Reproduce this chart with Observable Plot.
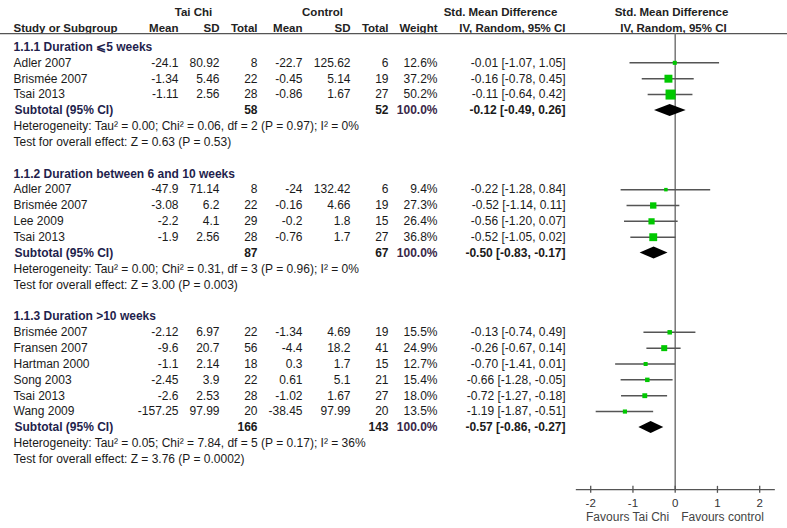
<!DOCTYPE html>
<html><head><meta charset="utf-8">
<script src="https://cdn.jsdelivr.net/npm/d3@7"></script>
<script src="https://cdn.jsdelivr.net/npm/@observablehq/plot@0.6"></script>
<style>body{margin:0;background:#fff;} #chart svg{display:block;}</style>
</head><body><div id="chart"></div>
<script>
// ---------- DATA ----------
const groupTitle = ["1.1.1 Duration \u2A7D5 weeks", "1.1.2 Duration between 6 and 10 weeks", "1.1.3 Duration >10 weeks"];
const studyGroup = [0,0,0, 1,1,1,1, 2,2,2,2,2,2];
const studyName = ["Adler 2007","Brismée 2007","Tsai 2013",
  "Adler 2007","Brismée 2007","Lee 2009","Tsai 2013",
  "Brismée 2007","Fransen 2007","Hartman 2000","Song 2003","Tsai 2013","Wang 2009"];
const taiChiMean = [-24.1,-1.34,-1.11, -47.9,-3.08,-2.2,-1.9, -2.12,-9.6,-1.1,-2.45,-2.6,-157.25];
const taiChiSD   = [80.92,5.46,2.56, 71.14,6.2,4.1,2.56, 6.97,20.7,2.14,3.9,2.53,97.99];
const taiChiN    = [8,22,28, 8,22,29,28, 22,56,18,22,28,20];
const controlMean = [-22.7,-0.45,-0.86, -24,-0.16,-0.2,-0.76, -1.34,-4.4,0.3,0.61,-1.02,-38.45];
const controlSD   = [125.62,5.14,1.67, 132.42,4.66,1.8,1.7, 4.69,18.2,1.7,5.1,1.67,97.99];
const controlN    = [6,19,27, 6,19,15,27, 19,41,15,21,27,20];
const weight = [12.6,37.2,50.2, 9.4,27.3,26.4,36.8, 15.5,24.9,12.7,15.4,18.0,13.5];
const smd    = [-0.01,-0.16,-0.11, -0.22,-0.52,-0.56,-0.52, -0.13,-0.26,-0.70,-0.66,-0.72,-1.19];
const ciLow  = [-1.07,-0.78,-0.64, -1.28,-1.14,-1.20,-1.05, -0.74,-0.67,-1.41,-1.28,-1.27,-1.87];
const ciHigh = [1.05,0.45,0.42, 0.84,0.11,0.07,0.02, 0.49,0.14,0.01,-0.05,-0.18,-0.51];

const subTaiChiN  = [58, 87, 166];
const subControlN = [52, 67, 143];
const subWeight   = [100.0, 100.0, 100.0];
const subSmd  = [-0.12, -0.50, -0.57];
const subLow  = [-0.49, -0.83, -0.86];
const subHigh = [0.26, -0.17, -0.27];
const heterogeneity = [
  "Heterogeneity: Tau² = 0.00; Chi² = 0.06, df = 2 (P = 0.97); I² = 0%",
  "Heterogeneity: Tau² = 0.00; Chi² = 0.31, df = 3 (P = 0.96); I² = 0%",
  "Heterogeneity: Tau² = 0.05; Chi² = 7.84, df = 5 (P = 0.17); I² = 36%"];
const overallTest = [
  "Test for overall effect: Z = 0.63 (P = 0.53)",
  "Test for overall effect: Z = 3.00 (P = 0.003)",
  "Test for overall effect: Z = 3.76 (P = 0.0002)"];
const axisTicks = [-2, -1, 0, 1, 2];
const favoursLeft = "Favours Tai Chi";
const favoursRight = "Favours control";

// ---------- ROW LAYOUT ----------
const titles = [], studies = [], subs = [], notes = [];
let row = 0;
groupTitle.forEach((t, g) => {
  titles.push({text: t, row}); row++;
  studyGroup.forEach((sg, i) => {
    if (sg !== g) return;
    studies.push({name: studyName[i], tm: taiChiMean[i], tsd: taiChiSD[i], tn: taiChiN[i],
      cm: controlMean[i], csd: controlSD[i], cn: controlN[i], w: weight[i],
      est: smd[i], lo: ciLow[i], hi: ciHigh[i], row});
    row++;
  });
  subs.push({g, tn: subTaiChiN[g], cn: subControlN[g], w: subWeight[g], est: subSmd[g], lo: subLow[g], hi: subHigh[g], row});
  notes.push({text: heterogeneity[g], row: row + 1});
  notes.push({text: overallTest[g], row: row + 2});
  row += 4;
});
const axisRow = 27.92;             // axis line row position
const headRow1 = -2.2, headRow2 = -1.2, headLine = -0.85;
const diamondHalf = 0.38;
const diamonds = subs.flatMap(s => [
  {g: s.g, x: s.lo, y1: s.row, y2: s.row},
  {g: s.g, x: s.est, y1: s.row - diamondHalf, y2: s.row + diamondHalf},
  {g: s.g, x: s.hi, y1: s.row, y2: s.row}]);

const ci = d => `${d.est.toFixed(2)} [${d.lo.toFixed(2)}, ${d.hi.toFixed(2)}]`;
const font = "Liberation Sans, Arial, sans-serif";
const txt = "#1a1a1a", navy = "#1f1f4d";
const body = {frameAnchor: "left", fontSize: 12, fontFamily: font, fill: txt};

// column layout (pixels from left)
const cols = [
  {key: d => String(d.tm), x: 178}, {key: d => String(d.tsd), x: 219}, {key: d => String(d.tn), x: 257},
  {key: d => String(d.cm), x: 302}, {key: d => String(d.csd), x: 350}, {key: d => String(d.cn), x: 388},
  {key: d => d.w.toFixed(1) + "%", x: 437}, {key: ci, x: 565}];
const subCols = [
  {key: d => String(d.tn), x: 257, fill: txt}, {key: d => String(d.cn), x: 388, fill: txt},
  {key: d => d.w.toFixed(1) + "%", x: 437, fill: "#3a2748"}, {key: ci, x: 565, fill: txt}];
const headers2 = [
  {t: "Mean", x: 178, a: "end"}, {t: "SD", x: 219, a: "end"}, {t: "Total", x: 257, a: "end"}, {t: "Mean", x: 302, a: "end"},
  {t: "SD", x: 350, a: "end"}, {t: "Total", x: 388, a: "end"}, {t: "Weight", x: 437, a: "end"},
  {t: "IV, Random, 95% CI", x: 565, a: "end"}, {t: "IV, Random, 95% CI", x: 673, a: "middle"},
  {t: "Study or Subgroup", x: 13, a: "start"}];
const headers1 = [
  {t: "Tai Chi", x: 193}, {t: "Control", x: 322}, {t: "Std. Mean Difference", x: 500}, {t: "Std. Mean Difference", x: 671}];
const head = {frameAnchor: "left", fontSize: 11.5, fontWeight: "bold", fontFamily: font, fill: "#222"};

const chart = Plot.plot({
  width: 787, height: 528,
  marginLeft: 0, marginRight: 0, marginTop: 0, marginBottom: 0,
  x: {domain: [-2, 2], range: [590.2, 759.2], axis: null},
  y: {domain: [0, 27], range: [46.5, 46.5 + 27 * 15.85], axis: null},
  r: {type: "identity"},
  style: {background: "#fff"},
  marks: [
    // header
    ...headers1.map(h => Plot.text([h], {...head, y: () => headRow1, text: d => d.t, dx: h.x, textAnchor: "middle"})),
    ...headers2.map(h => Plot.text([h], {...head, y: () => headRow2, text: d => d.t, dx: h.x, textAnchor: h.a})),
    Plot.ruleY([headLine], {stroke: "#555", strokeWidth: 1.3}),
    // zero line
    Plot.ruleX([0], {y1: headLine, y2: axisRow, stroke: "#777", strokeWidth: 1.5}),
    // group titles
    Plot.text(titles, {...body, y: "row", text: "text", dx: 13, textAnchor: "start", fontWeight: "bold", fill: navy}),
    // studies
    Plot.text(studies, {...body, y: "row", text: "name", dx: 13, textAnchor: "start"}),
    ...cols.map(c => Plot.text(studies, {...body, y: "row", text: c.key, dx: c.x, textAnchor: "end"})),
    // subtotals
    Plot.text(subs, {...body, y: "row", text: () => "Subtotal (95% CI)", dx: 14, textAnchor: "start", fontWeight: "bold", fill: navy}),
    ...subCols.map(c => Plot.text(subs, {...body, y: "row", text: c.key, dx: c.x, textAnchor: "end", fontWeight: "bold", fill: c.fill})),
    // notes
    Plot.text(notes, {...body, y: "row", text: "text", dx: 13, textAnchor: "start"}),
    // CIs and squares
    Plot.ruleY(studies, {y: "row", x1: "lo", x2: "hi", stroke: "#555", strokeWidth: 1.5}),
    Plot.dot(studies, {x: "est", y: "row", symbol: "square", r: d => (2 + 0.16 * d.w) / Math.sqrt(Math.PI), fill: "#00c800", stroke: null}),
    Plot.areaY(diamonds, {x: "x", y1: "y1", y2: "y2", z: "g", fill: "#000"}),
    // axis
    Plot.ruleY([axisRow], {x1: -2.34, x2: 2.37, stroke: "#555", strokeWidth: 1.3}),
    Plot.ruleX(axisTicks, {x: d => d, y1: axisRow - 0.2, y2: axisRow + 0.24, stroke: "#555", strokeWidth: 1.3}),
    Plot.text(axisTicks, {x: d => d, y: () => axisRow, dy: 14, text: d => String(d), fontSize: 11.5, fontFamily: font, fill: "#333"}),
    Plot.text([favoursLeft], {x: () => 0, y: () => axisRow, dy: 28, dx: -6, text: d => d, textAnchor: "end", fontSize: 12, fontFamily: font, fill: "#444"}),
    Plot.text([favoursRight], {x: () => 0, y: () => axisRow, dy: 28, dx: 6, text: d => d, textAnchor: "start", fontSize: 12, fontFamily: font, fill: "#444"})
  ]
});
document.getElementById("chart").appendChild(chart);
</script>
</body></html>
